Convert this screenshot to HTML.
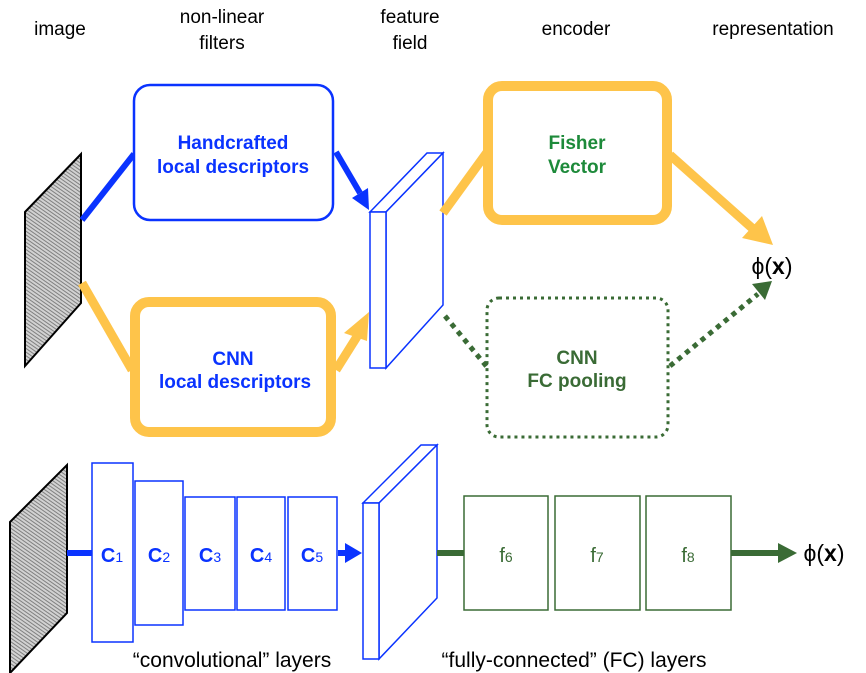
<!DOCTYPE html>
<html><head><meta charset="utf-8"><style>
html,body{margin:0;padding:0;background:#fff}
svg{display:block}
text{font-family:"Liberation Sans",Arial,sans-serif}
</style></head><body>
<svg width="866" height="673" viewBox="0 0 866 673" xmlns="http://www.w3.org/2000/svg">
<defs>
<pattern id="tex" width="3" height="3" patternUnits="userSpaceOnUse" patternTransform="rotate(35)">
<rect width="3" height="3" fill="#d2d2d2"/>
<rect width="3" height="1" fill="#808080"/>
</pattern>
</defs>
<g font-size="19" fill="#000" text-anchor="middle">
<text x="60" y="35">image</text>
<text x="222" y="23">non-linear</text>
<text x="222" y="49">filters</text>
<text x="410" y="23">feature</text>
<text x="410" y="49">field</text>
<text x="576" y="35">encoder</text>
<text x="773" y="35">representation</text>
</g>
<polygon points="25,212 81,154 81,303 25,366" fill="url(#tex)" stroke="#000" stroke-width="2"/>
<line x1="82" y1="220" x2="134" y2="154" stroke="#0a33ff" stroke-width="6"/>
<line x1="336" y1="152" x2="360" y2="193" stroke="#0a33ff" stroke-width="6"/>
<polygon points="352,198 369,210 368,188" fill="#0a33ff"/>
<rect x="134" y="85" width="199" height="135" rx="16" fill="#fff" stroke="#0a33ff" stroke-width="2.5"/>
<g font-size="19" font-weight="bold" fill="#0a33ff" text-anchor="middle">
<text x="233" y="149">Handcrafted</text>
<text x="233" y="173">local descriptors</text>
</g>
<line x1="82" y1="283" x2="132" y2="370" stroke="#fec44a" stroke-width="9"/>
<line x1="336" y1="370" x2="358" y2="335" stroke="#fec44a" stroke-width="9"/>
<polygon points="344,333 369,312 367,341" fill="#fec44a"/>
<rect x="135" y="302" width="196" height="130" rx="14" fill="#fff" stroke="#fec44a" stroke-width="10"/>
<g font-size="19" font-weight="bold" fill="#0a33ff" text-anchor="middle">
<text x="233" y="365">CNN</text>
<text x="235" y="388">local descriptors</text>
</g>
<g fill="#fff" stroke="#0a33ff" stroke-width="1.5">
<polygon points="370,212 427,153 443,153 386,212"/>
<polygon points="386,212 443,153 443,305 386,368"/>
<rect x="370" y="212" width="16" height="156"/>
</g>
<line x1="443" y1="213" x2="488" y2="151" stroke="#fec44a" stroke-width="9"/>
<line x1="670" y1="155" x2="752" y2="228" stroke="#fec44a" stroke-width="9"/>
<polygon points="742,238 773,245 762,216" fill="#fec44a"/>
<rect x="488" y="86" width="179" height="134" rx="14" fill="#fff" stroke="#fec44a" stroke-width="10"/>
<g font-size="19" font-weight="bold" fill="#1d8a3a" text-anchor="middle">
<text x="577" y="149">Fisher</text>
<text x="577" y="173">Vector</text>
</g>
<text x="772" y="274" font-size="23" text-anchor="middle" fill="#000">ϕ(<tspan font-weight="bold">x</tspan>)</text>
<line x1="445" y1="316" x2="487" y2="367" stroke="#3a6b35" stroke-width="5" stroke-dasharray="5,5"/>
<line x1="670" y1="366" x2="758" y2="294" stroke="#3a6b35" stroke-width="5" stroke-dasharray="5,5"/>
<polygon points="752,284 772,281 765,300" fill="#3a6b35"/>
<rect x="487" y="298" width="181" height="139" rx="12" fill="none" stroke="#3a6b35" stroke-width="3" stroke-dasharray="3,4"/>
<g font-size="19" font-weight="bold" fill="#3a6b35" text-anchor="middle">
<text x="577" y="364">CNN</text>
<text x="577" y="387">FC pooling</text>
</g>
<polygon points="10,522 67,465 67,613 10,673" fill="url(#tex)" stroke="#000" stroke-width="2"/>
<line x1="67" y1="553" x2="92" y2="553" stroke="#0a33ff" stroke-width="6"/>
<g fill="#fff" stroke="#0a33ff" stroke-width="1.5">
<rect x="92" y="463" width="41" height="179"/>
<rect x="135" y="481" width="48" height="144"/>
<rect x="185" y="497" width="50" height="113"/>
<rect x="237" y="497" width="48" height="113"/>
<rect x="288" y="497" width="49" height="113"/>
</g>
<g font-size="20" fill="#0a33ff" text-anchor="middle" font-weight="bold">
<text x="112" y="562">C<tspan font-size="14" font-weight="normal">1</tspan></text>
<text x="159" y="562">C<tspan font-size="14" font-weight="normal">2</tspan></text>
<text x="210" y="562">C<tspan font-size="14" font-weight="normal">3</tspan></text>
<text x="261" y="562">C<tspan font-size="14" font-weight="normal">4</tspan></text>
<text x="312" y="562">C<tspan font-size="14" font-weight="normal">5</tspan></text>
</g>
<line x1="338" y1="553" x2="348" y2="553" stroke="#0a33ff" stroke-width="6"/>
<polygon points="345,543 362,553 345,563" fill="#0a33ff"/>
<g fill="#fff" stroke="#0a33ff" stroke-width="1.5">
<polygon points="363,503 421,445 437,445 379,503"/>
<polygon points="379,503 437,445 437,598 379,659"/>
<rect x="363" y="503" width="16" height="156"/>
</g>
<line x1="437" y1="553" x2="465" y2="553" stroke="#3a6b35" stroke-width="6"/>
<g fill="#fff" stroke="#3a6b35" stroke-width="1.5">
<rect x="464" y="496" width="84" height="114"/>
<rect x="555" y="496" width="85" height="114"/>
<rect x="646" y="496" width="85" height="114"/>
</g>
<g font-size="20" fill="#3a6b35" text-anchor="middle">
<text x="506" y="562">f<tspan font-size="14">6</tspan></text>
<text x="597" y="562">f<tspan font-size="14">7</tspan></text>
<text x="688" y="562">f<tspan font-size="14">8</tspan></text>
</g>
<line x1="731" y1="553" x2="782" y2="553" stroke="#3a6b35" stroke-width="6"/>
<polygon points="778,543 797,553 778,563" fill="#3a6b35"/>
<text x="824" y="561" font-size="23" text-anchor="middle" fill="#000">ϕ(<tspan font-weight="bold">x</tspan>)</text>
<g font-size="21" fill="#000" text-anchor="middle">
<text x="232" y="667">“convolutional”  layers</text>
<text x="574" y="667">“fully-connected”  (FC) layers</text>
</g>
</svg>
</body></html>
